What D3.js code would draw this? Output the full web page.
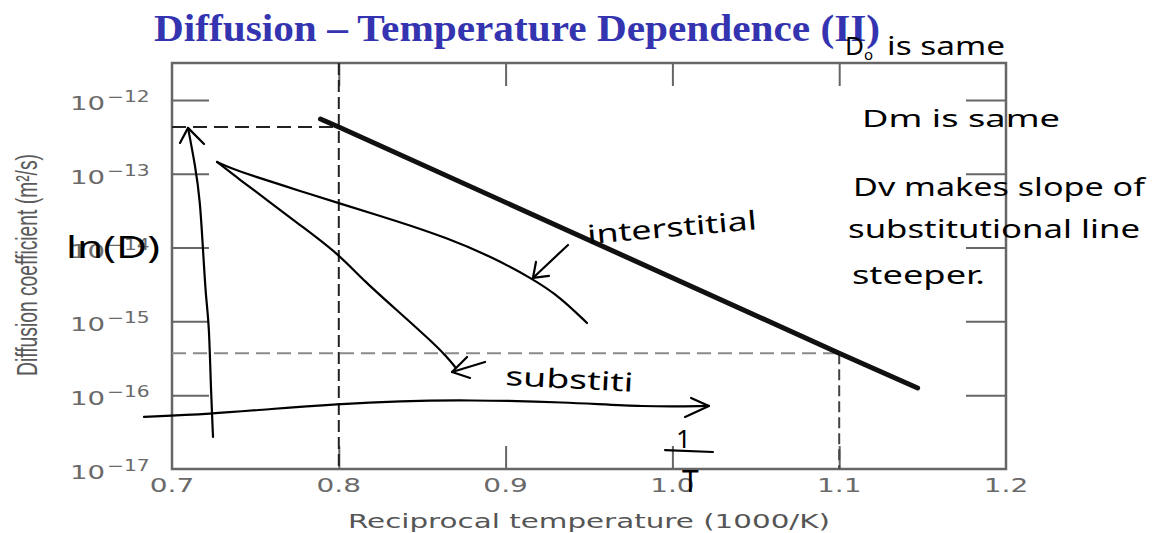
<!DOCTYPE html>
<html>
<head>
<meta charset="utf-8">
<script src="https://cdn.jsdelivr.net/npm/d3@7"></script>
<style>
  html, body { margin: 0; padding: 0; background: #fff; }
  svg { display: block; }
</style>
</head>
<body>
<svg id="chart" width="1157" height="533"></svg>
<script>
// ---------------- data ----------------
const xTicks = [0.7, 0.8, 0.9, 1.0, 1.1, 1.2];
const xTickLabels = ["0.7", "0.8", "0.9", "1.0", "1.1", "1.2"];
const yTickExps = [-12, -13, -14, -15, -16, -17];

// Diffusion line (thick), reciprocal temperature (1000/K) vs D (m^2/s)
const lineX = [0.789, 0.8, 1.1, 1.147];
const lineD = [5.5e-13, 4.3e-13, 3.7e-16, 1.25e-16];

// Dashed read-off guides
const guideX = [0.8, 1.1];
const guideD = [4.3e-13, 3.7e-16];

// Hand-drawn annotation strokes (x in 1000/K, log10 D)
const lnDArrowX = [0.7246, 0.7234, 0.7222, 0.7204, 0.7186, 0.7168, 0.7140, 0.7096];
const lnDArrowE = [-16.566, -15.984, -15.008, -14.710, -14.033, -13.355, -12.900, -12.379];
const lnDHeadX = [0.7048, 0.7096, 0.7192];
const lnDHeadE = [-12.583, -12.379, -12.596];

const invTArrowX = [0.6832, 0.7234, 0.7588, 0.7995, 0.8367, 0.8763, 0.9356, 0.9830, 1.0219];
const invTArrowE = [-16.295, -16.255, -16.187, -16.119, -16.079, -16.065, -16.092, -16.160, -16.146];
const invTHeadX = [1.0112, 1.0219, 1.0076];
const invTHeadE = [-16.038, -16.146, -16.295];

const interstitialX = [0.7270, 0.7348, 0.7486, 0.7767, 0.7995, 0.8367, 0.8649, 0.8906, 0.9164, 0.9326, 0.9488];
const interstitialE = [-12.840, -12.921, -13.030, -13.233, -13.396, -13.653, -13.870, -14.114, -14.426, -14.669, -15.022];

const substitutionalX = [0.7270, 0.7408, 0.7570, 0.7767, 0.7995, 0.8145, 0.8367, 0.8547, 0.8649, 0.8697];
const substitutionalE = [-12.840, -13.084, -13.355, -13.694, -14.080, -14.440, -14.886, -15.252, -15.482, -15.618];

const interPtrX = [0.9374, 0.9164];
const interPtrE = [-13.965, -14.412];
const interPtrHeadX = [0.9182, 0.9164, 0.9260];
const interPtrHeadE = [-14.195, -14.412, -14.385];

const subPtrX = [0.8877, 0.8679];
const subPtrE = [-15.550, -15.686];
const subPtrHeadX = [0.8769, 0.8679, 0.8787];
const subPtrHeadE = [-15.482, -15.686, -15.767];

const fracBarX = [0.9956, 1.0243];
const fracBarE = [-16.743, -16.770];

const titleText = "Diffusion \u2013 Temperature Dependence (II)";
const xLabel = "Reciprocal temperature (1000/K)";
const yLabel = "Diffusion coefficient (m\u00B2/s)";

// ---------------- layout ----------------
const svg = d3.select("#chart");
const L = 172, R = 1006, T = 63, B = 469;
const x = d3.scaleLinear().domain([0.7, 1.2]).range([L, R]);
const y = d3.scaleLog().domain([1e-17, Math.pow(10, -11.5)]).range([B, T]);
const axisGray = "#666";
const labelGray = "#6a6a6a";

// title
svg.append("text")
  .attr("x", 154).attr("y", 41)
  .attr("font-family", "'Liberation Serif', 'Times New Roman', serif")
  .attr("font-weight", "bold")
  .attr("font-size", 37)
  .attr("fill", "#3434b0")
  .attr("textLength", 726).attr("lengthAdjust", "spacingAndGlyphs")
  .text(titleText);

// axes (inward ticks) via d3 axes
const gBottom = svg.append("g").attr("transform", `translate(0,${B})`)
  .call(d3.axisTop(x).tickValues(xTicks.slice(1, -1)).tickSize(23).tickFormat(""));
const gTop = svg.append("g").attr("transform", `translate(0,${T})`)
  .call(d3.axisBottom(x).tickValues(xTicks.slice(1, -1)).tickSize(23).tickFormat(""));
const yTickVals = yTickExps.filter(e => e > -17).map(e => Math.pow(10, e));
const gLeft = svg.append("g").attr("transform", `translate(${L},0)`)
  .call(d3.axisRight(y).tickValues(yTickVals).tickSize(37).tickFormat(""));
const gRight = svg.append("g").attr("transform", `translate(${R},0)`)
  .call(d3.axisLeft(y).tickValues(yTickVals).tickSize(40).tickFormat(""));
[gBottom, gTop, gLeft, gRight].forEach(g => {
  g.select(".domain").remove();
  g.selectAll(".tick line").attr("stroke", axisGray).attr("stroke-width", 2);
});

// frame
svg.append("rect").attr("x", L).attr("y", T).attr("width", R - L).attr("height", B - T)
  .attr("fill", "none").attr("stroke", axisGray).attr("stroke-width", 2.5);

// x tick labels
svg.append("g").selectAll("text").data(xTicks).join("text")
  .attr("transform", d => `translate(${x(d)},${B + 23}) scale(1.4,1)`)
  .attr("text-anchor", "middle")
  .attr("font-family", "'DejaVu Sans', sans-serif")
  .attr("font-size", 20)
  .attr("fill", labelGray)
  .text((d, i) => xTickLabels[i]);

// y tick labels 10^n
const yl = svg.append("g").selectAll("g").data(yTickExps).join("g")
  .attr("transform", d => `translate(70,${y(Math.pow(10, d))})`);
yl.append("text")
  .attr("transform", "translate(0,10) scale(1.38,1)")
  .attr("font-family", "'DejaVu Sans', sans-serif")
  .attr("font-size", 20).attr("fill", labelGray).text("10");
yl.append("text")
  .attr("transform", "translate(37,2) scale(1.35,1)")
  .attr("font-family", "'DejaVu Sans', sans-serif")
  .attr("font-size", 15).attr("fill", labelGray).text(d => "\u2212" + Math.abs(d));

// axis titles
svg.append("text")
  .attr("x", 589).attr("y", 528)
  .attr("text-anchor", "middle")
  .attr("font-family", "'DejaVu Sans', sans-serif")
  .attr("font-size", 20).attr("fill", "#555")
  .attr("textLength", 482).attr("lengthAdjust", "spacingAndGlyphs")
  .text(xLabel);
svg.append("text")
  .attr("transform", "translate(37,265) rotate(-90)")
  .attr("text-anchor", "middle")
  .attr("font-family", "'Liberation Sans', sans-serif")
  .attr("font-size", 30).attr("fill", "#5a5a5a")
  .attr("textLength", 222).attr("lengthAdjust", "spacingAndGlyphs")
  .text(yLabel);

// dashed guides
svg.append("g").selectAll("line").data(guideX).join("line")
  .attr("x1", L).attr("x2", (d) => x(d))
  .attr("y1", (d, i) => y(guideD[i])).attr("y2", (d, i) => y(guideD[i]))
  .attr("stroke", (d, i) => i === 0 ? "#222" : "#8a8a8a")
  .attr("stroke-width", 2)
  .attr("stroke-dasharray", "14,7");
svg.append("line")
  .attr("x1", x(guideX[0])).attr("x2", x(guideX[0]))
  .attr("y1", T).attr("y2", B)
  .attr("stroke", "#222").attr("stroke-width", 2).attr("stroke-dasharray", "12,5");
svg.append("line")
  .attr("x1", x(guideX[1])).attr("x2", x(guideX[1]))
  .attr("y1", y(guideD[1])).attr("y2", B)
  .attr("stroke", "#444").attr("stroke-width", 2).attr("stroke-dasharray", "11,5");

// thick diffusion line
svg.append("path")
  .datum(lineX.map((v, i) => [v, lineD[i]]))
  .attr("d", d3.line().x(d => x(d[0])).y(d => y(d[1])))
  .attr("fill", "none").attr("stroke", "#111").attr("stroke-width", 5)
  .attr("stroke-linecap", "round");

// hand-drawn strokes
const pen = (xs, es, curve) => {
  svg.append("path")
    .datum(xs.map((v, i) => [v, Math.pow(10, es[i])]))
    .attr("d", d3.line().x(d => x(d[0])).y(d => y(d[1])).curve(curve || d3.curveLinear))
    .attr("fill", "none").attr("stroke", "#000").attr("stroke-width", 2.2)
    .attr("stroke-linecap", "round").attr("stroke-linejoin", "round");
};
pen(lnDArrowX, lnDArrowE, d3.curveBasis);
pen(lnDHeadX, lnDHeadE);
pen(invTArrowX, invTArrowE, d3.curveBasis);
pen(invTHeadX, invTHeadE);
pen(interstitialX, interstitialE, d3.curveBasis);
pen(substitutionalX, substitutionalE, d3.curveBasis);
pen(interPtrX, interPtrE);
pen(interPtrHeadX, interPtrHeadE);
pen(subPtrX, subPtrE);
pen(subPtrHeadX, subPtrHeadE);
pen(fracBarX, fracBarE);

// handwritten notes
const hand = "'Noto Sans', 'DejaVu Sans', sans-serif";
const note = (txt, px, py, fs, len, rot) => {
  const t = svg.append("text")
    .attr("transform", `translate(${px},${py}) rotate(${rot || 0})`)
    .attr("font-family", hand).attr("font-size", fs).attr("fill", "#000");
  if (len) t.attr("textLength", len).attr("lengthAdjust", "spacingAndGlyphs");
  t.text(txt);
  return t;
};
note("ln(D)", 66, 258, 30, 94);
note("interstitial", 588, 244, 26, 170, -5);
note("substiti", 505, 385, 26, 128, 3);
note("1", 676, 448, 26);
note("T", 682, 492, 30);

// D0 is same
const d0 = svg.append("text").attr("x", 845).attr("y", 55)
  .attr("font-family", hand).attr("font-size", 26).attr("fill", "#000");
d0.append("tspan").text("D");
d0.append("tspan").attr("font-size", 15).attr("dy", 5).text("o");
d0.append("tspan").attr("dy", -5).attr("dx", 14)
  .attr("textLength", 118).attr("lengthAdjust", "spacingAndGlyphs").text("is same");

const dm = svg.append("text").attr("x", 862).attr("y", 127)
  .attr("font-family", hand).attr("font-size", 24).attr("fill", "#000")
  .attr("textLength", 198).attr("lengthAdjust", "spacingAndGlyphs");
dm.text("Dm is same");

note("Dv makes slope of", 853, 196, 26, 292);
note("substitutional line", 848, 238, 26, 292);
note("steeper.", 852, 284, 26, 133);
</script>
</body>
</html>
